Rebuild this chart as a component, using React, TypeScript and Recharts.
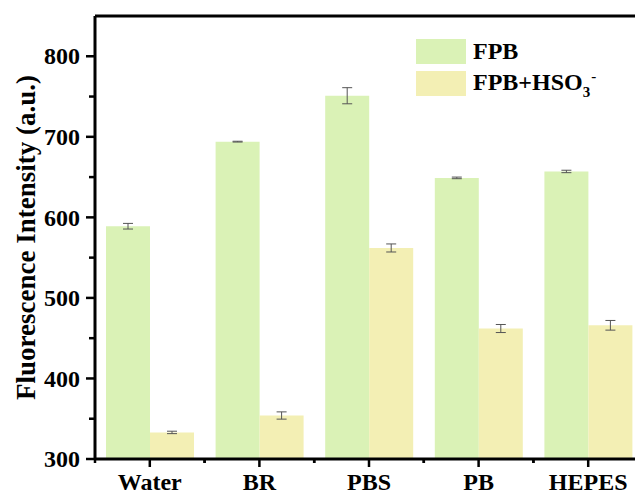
import React from "react";
import { BarChart, Bar, XAxis, YAxis, ErrorBar, ReferenceLine, Label } from "recharts";

const categories = ["Water", "BR", "PBS", "PB", "HEPES"];
const fpbValues = [589, 694, 751, 649, 657];
const fpbErrors = [3.5, 0.5, 10, 1, 1.5];
const hso3Values = [333, 354, 562, 462, 466];
const hso3Errors = [1.5, 4.5, 5, 5, 6];
const yMajorTicks = [300, 400, 500, 600, 700, 800];
const yMinorTicks = [350, 450, 550, 650, 750];

const FONT = "'Times New Roman', 'Liberation Serif', serif";
const GREEN = "#daf2b6";
const YELLOW = "#f3efb4";

const CHART_W = 650;
const CHART_H = 495;
const MARGIN = { top: 16, right: 7, left: 0, bottom: 0 };
const Y_AXIS_W = 95;
const X_AXIS_H = 36;
const BAND = (CHART_W - MARGIN.left - MARGIN.right - Y_AXIS_W) / categories.length;

const data = categories.map((name, i) => ({
  name,
  fpb: fpbValues[i],
  fpbErr: fpbErrors[i],
  hso3: hso3Values[i],
  hso3Err: hso3Errors[i],
}));

const yTickList = [...yMajorTicks, ...yMinorTicks].sort((a, b) => a - b);

function YTick(props: any) {
  const { x, y, payload } = props;
  const major = yMajorTicks.includes(payload.value);
  return (
    <g>
      <line x1={x - (major ? 9 : 6)} y1={y} x2={x} y2={y} stroke="#000" strokeWidth={2.5} />
      {major && (
        <text x={x - 15} y={y} dy="0.34em" textAnchor="end" fontFamily={FONT} fontWeight="bold" fontSize={24} fill="#000">
          {payload.value}
        </text>
      )}
    </g>
  );
}

function XTick(props: any) {
  const { x, y, payload } = props;
  const half = BAND / 2;
  return (
    <g>
      <line x1={x} y1={y} x2={x} y2={y + 8} stroke="#000" strokeWidth={2.5} />
      <line x1={x - half} y1={y} x2={x - half} y2={y + 4} stroke="#000" strokeWidth={2.5} />
      <line x1={x + half} y1={y} x2={x + half} y2={y + 4} stroke="#000" strokeWidth={2.5} />
      <text x={x} y={y + 31} textAnchor="middle" fontFamily={FONT} fontWeight="bold" fontSize={24} fill="#000">
        {payload.value}
      </text>
    </g>
  );
}

function YLabel(props: any) {
  const vb = props.viewBox || { x: 0, y: MARGIN.top, width: Y_AXIS_W, height: 443 };
  const cx = vb.x + 26;
  const cy = vb.y + vb.height / 2;
  return (
    <text
      x={cx}
      y={cy}
      transform={`rotate(-90, ${cx}, ${cy})`}
      textAnchor="middle"
      dominantBaseline="central"
      fontFamily={FONT}
      fontWeight="bold"
      fontSize={27}
      fill="#000"
    >
      Fluorescence Intensity (a.u.)
    </text>
  );
}

function LegendBox() {
  const row: React.CSSProperties = { display: "flex", alignItems: "center", height: 25, marginBottom: 7 };
  const swatch: React.CSSProperties = { width: 50, height: 25, marginRight: 7 };
  const label: React.CSSProperties = { fontFamily: FONT, fontWeight: "bold", fontSize: 24, color: "#000", lineHeight: "25px", whiteSpace: "nowrap" };
  return (
    <div style={{ position: "absolute", left: 416, top: 39 }}>
      <div style={row}>
        <div style={{ ...swatch, background: GREEN }} />
        <span style={label}>FPB</span>
      </div>
      <div style={row}>
        <div style={{ ...swatch, background: YELLOW }} />
        <span style={label}>
          FPB+HSO
          <span style={{ fontSize: 15, position: "relative", top: 7 }}>3</span>
          <span style={{ fontSize: 15, position: "relative", top: -9, marginLeft: 1 }}>-</span>
        </span>
      </div>
    </div>
  );
}

export default function App() {
  return (
    <div style={{ position: "absolute", left: 0, top: 0, width: 635, height: 495, overflow: "hidden", background: "#fff" }}>
      <BarChart width={CHART_W} height={CHART_H} data={data} margin={MARGIN} barCategoryGap={11} barGap={0}>
        <XAxis
          dataKey="name"
          height={X_AXIS_H}
          axisLine={{ stroke: "#000", strokeWidth: 3 }}
          tickLine={false}
          tickSize={0}
          tickMargin={0}
          interval={0}
          tick={<XTick />}
        />
        <YAxis
          type="number"
          domain={[300, 850]}
          ticks={yTickList}
          width={Y_AXIS_W}
          axisLine={{ stroke: "#000", strokeWidth: 3 }}
          tickLine={false}
          tickSize={0}
          tickMargin={0}
          interval={0}
          tick={<YTick />}
        >
          <Label content={<YLabel />} />
        </YAxis>
        <ReferenceLine y={850} stroke="#000" strokeWidth={3} />
        <Bar dataKey="fpb" fill={GREEN} isAnimationActive={false}>
          <ErrorBar dataKey="fpbErr" width={5} stroke="#555" strokeWidth={1} />
        </Bar>
        <Bar dataKey="hso3" fill={YELLOW} isAnimationActive={false}>
          <ErrorBar dataKey="hso3Err" width={5} stroke="#555" strokeWidth={1} />
        </Bar>
      </BarChart>
      <LegendBox />
    </div>
  );
}
